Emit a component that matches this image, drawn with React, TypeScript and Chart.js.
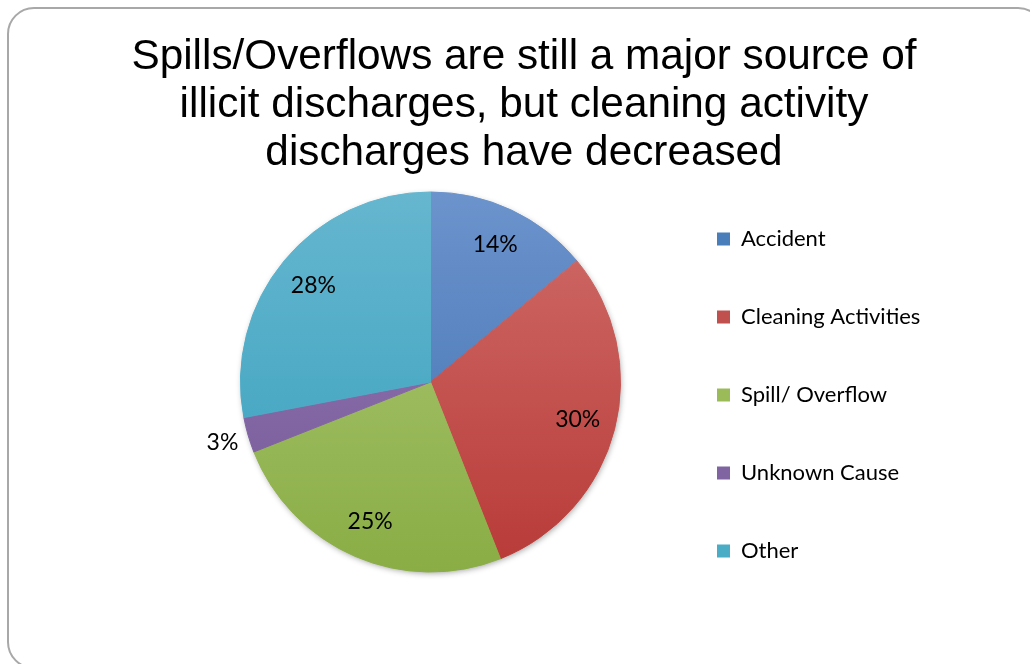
import React, { useEffect, useRef } from 'react';
import { Chart, registerables } from 'chart.js';

Chart.register(...registerables);

// ---------- data ----------
const titleLines = [
  'Spills/Overflows are still a major source of',
  'illicit discharges, but cleaning activity',
  'discharges have decreased',
];
const categories = ['Accident', 'Cleaning Activities', 'Spill/ Overflow', 'Unknown Cause', 'Other'];
const shares = [14, 30, 25, 3, 28];

// ---------- styles ----------
const baseColors = ['#4A7EBB', '#C0504D', '#9BBB59', '#8064A2', '#4BACC6'];
const topColors = ['#6C93CC', '#D06D6A', '#ADC977', '#977DB7', '#66B6CF'];
const bottomColors = ['#3E70B0', '#B83A37', '#8AAD45', '#735595', '#36A0BD'];

const CANVAS_W = 1030;
const CANVAS_H = 664;
const PIE_CX = 430.5;
const PIE_CY = 382;
const PIE_R = 190;
const TITLE_FONT = 42.3;
const TITLE_LH = 48;
const TITLE_CX = 524;
const TITLE_FIRST_Y = 57;
const LEGEND_FONT = 22;
const LEGEND_FAMILY = 'Lato';
const LEGEND_BOX = 13;
const LEGEND_X = 717;
const LEGEND_FIRST_Y = 239;
const LEGEND_STEP = 78;
const LABEL_FONT = 23;

const shadowPlugin = {
  id: 'pieShadow',
  beforeDatasetsDraw(chart: any) {
    const arc = chart.getDatasetMeta(0).data[0];
    if (!arc) return;
    const { x, y, outerRadius } = arc.getProps(['x', 'y', 'outerRadius'], true);
    const c = chart.ctx;
    c.save();
    c.shadowColor = 'rgba(0,0,0,0.4)';
    c.shadowBlur = 6;
    c.shadowOffsetX = 1;
    c.shadowOffsetY = 2;
    c.beginPath();
    c.arc(x, y, outerRadius - 1, 0, Math.PI * 2);
    c.fillStyle = '#ffffff';
    c.fill();
    c.restore();
  },
};

const labelPlugin = {
  id: 'sliceLabels',
  afterDatasetsDraw(chart: any) {
    const meta = chart.getDatasetMeta(0);
    const values = chart.data.datasets[0].data as number[];
    const total = values.reduce((a, b) => a + b, 0);
    const c = chart.ctx;
    c.save();
    c.font = `${LABEL_FONT}px ${LEGEND_FAMILY}`;
    c.fillStyle = '#000000';
    c.textAlign = 'center';
    c.textBaseline = 'middle';
    meta.data.forEach((arc: any, i: number) => {
      const { x, y, startAngle, endAngle, outerRadius } = arc.getProps(
        ['x', 'y', 'startAngle', 'endAngle', 'outerRadius'],
        true
      );
      const mid = (startAngle + endAngle) / 2;
      const frac = values[i] / total;
      const r = frac < 0.05 ? outerRadius * 1.14 : outerRadius * 0.8;
      const tx = x + Math.cos(mid) * r;
      const ty = y + Math.sin(mid) * r;
      c.fillText(`${Math.round(frac * 100)}%`, tx, ty);
    });
    c.restore();
  },
};

export default function App() {
  const canvasRef = useRef<HTMLCanvasElement | null>(null);

  useEffect(() => {
    if (!canvasRef.current) return;

    // layout arithmetic
    const mc = document.createElement('canvas').getContext('2d')!;
    mc.font = `normal ${LEGEND_FONT}px ${LEGEND_FAMILY}`;
    const textW = Math.max(...categories.map((t) => mc.measureText(t).width));
    const pad = LEGEND_STEP - LEGEND_FONT;
    const itemW = LEGEND_BOX + LEGEND_FONT / 2 + textW;
    const legendW = pad + itemW + 10;
    const legendLeft = LEGEND_X - pad;
    const padR = CANVAS_W - legendLeft - legendW;
    const padL = 2 * TITLE_CX - CANVAS_W + padR;
    const spacerW = 2 * PIE_CX - legendLeft - padL;
    const titlePadTop = TITLE_FIRST_Y - TITLE_LH / 2;
    const chartTop = 2 * PIE_CY - CANVAS_H;
    const titlePadBottom = chartTop - titlePadTop - titleLines.length * TITLE_LH;
    const legendTitleH = LEGEND_FIRST_Y - LEGEND_FONT / 2 - pad;

    const gradientFor = (ctx: any) => {
      const chart = ctx.chart;
      const i = ctx.dataIndex ?? 0;
      const area = chart.chartArea;
      if (!area) return baseColors[i];
      const cy = (area.top + area.bottom) / 2;
      const g = chart.ctx.createLinearGradient(0, cy - PIE_R, 0, cy + PIE_R);
      g.addColorStop(0, topColors[i]);
      g.addColorStop(1, bottomColors[i]);
      return g;
    };

    const defaultGen = (Chart as any).overrides.pie.plugins.legend.labels.generateLabels;

    const chart = new Chart(canvasRef.current, {
      type: 'pie',
      data: {
        labels: categories,
        datasets: [
          {
            data: shares,
            backgroundColor: gradientFor,
            borderColor: gradientFor,
            borderWidth: 1,
            radius: PIE_R,
          } as any,
        ],
      },
      plugins: [shadowPlugin, labelPlugin],
      options: {
        responsive: false,
        animation: false,
        devicePixelRatio: 1,
        events: [],
        layout: { padding: { left: padL, right: padR, top: 0, bottom: 0 } },
        scales: {
          y: {
            type: 'linear',
            position: 'left',
            display: false,
            afterFit: (s: any) => {
              s.width = spacerW;
            },
          } as any,
        },
        plugins: {
          tooltip: { enabled: false },
          title: {
            display: true,
            text: titleLines,
            color: '#000000',
            font: { family: 'Liberation Sans', size: TITLE_FONT, weight: 'normal', lineHeight: TITLE_LH / TITLE_FONT },
            padding: { top: titlePadTop, bottom: titlePadBottom },
          },
          legend: {
            display: true,
            position: 'right',
            align: 'start',
            title: {
              display: true,
              text: '',
              font: { size: 10, lineHeight: 1 },
              padding: { top: legendTitleH - 10, bottom: 0 },
            },
            labels: {
              color: '#000000',
              font: { family: LEGEND_FAMILY, size: LEGEND_FONT },
              boxWidth: LEGEND_BOX,
              boxHeight: LEGEND_BOX,
              padding: pad,
              generateLabels: (ch: any) =>
                defaultGen(ch).map((it: any, i: number) => ({
                  ...it,
                  fillStyle: baseColors[i],
                  strokeStyle: baseColors[i],
                  lineWidth: 0,
                })),
            },
          },
        },
      } as any,
    });

    return () => chart.destroy();
  }, []);

  return (
    <div
      style={{
        position: 'absolute',
        left: 0,
        top: 0,
        width: CANVAS_W,
        height: CANVAS_H,
        overflow: 'hidden',
        background: '#ffffff',
      }}
    >
      <div
        style={{
          position: 'absolute',
          left: 7,
          top: 7,
          width: 1038,
          height: 662,
          boxSizing: 'border-box',
          border: '2px solid #a8a8a8',
          borderRadius: 27,
        }}
      />
      <canvas
        ref={canvasRef}
        width={CANVAS_W}
        height={CANVAS_H}
        style={{ position: 'absolute', left: 0, top: 0, width: CANVAS_W, height: CANVAS_H }}
      />
    </div>
  );
}
